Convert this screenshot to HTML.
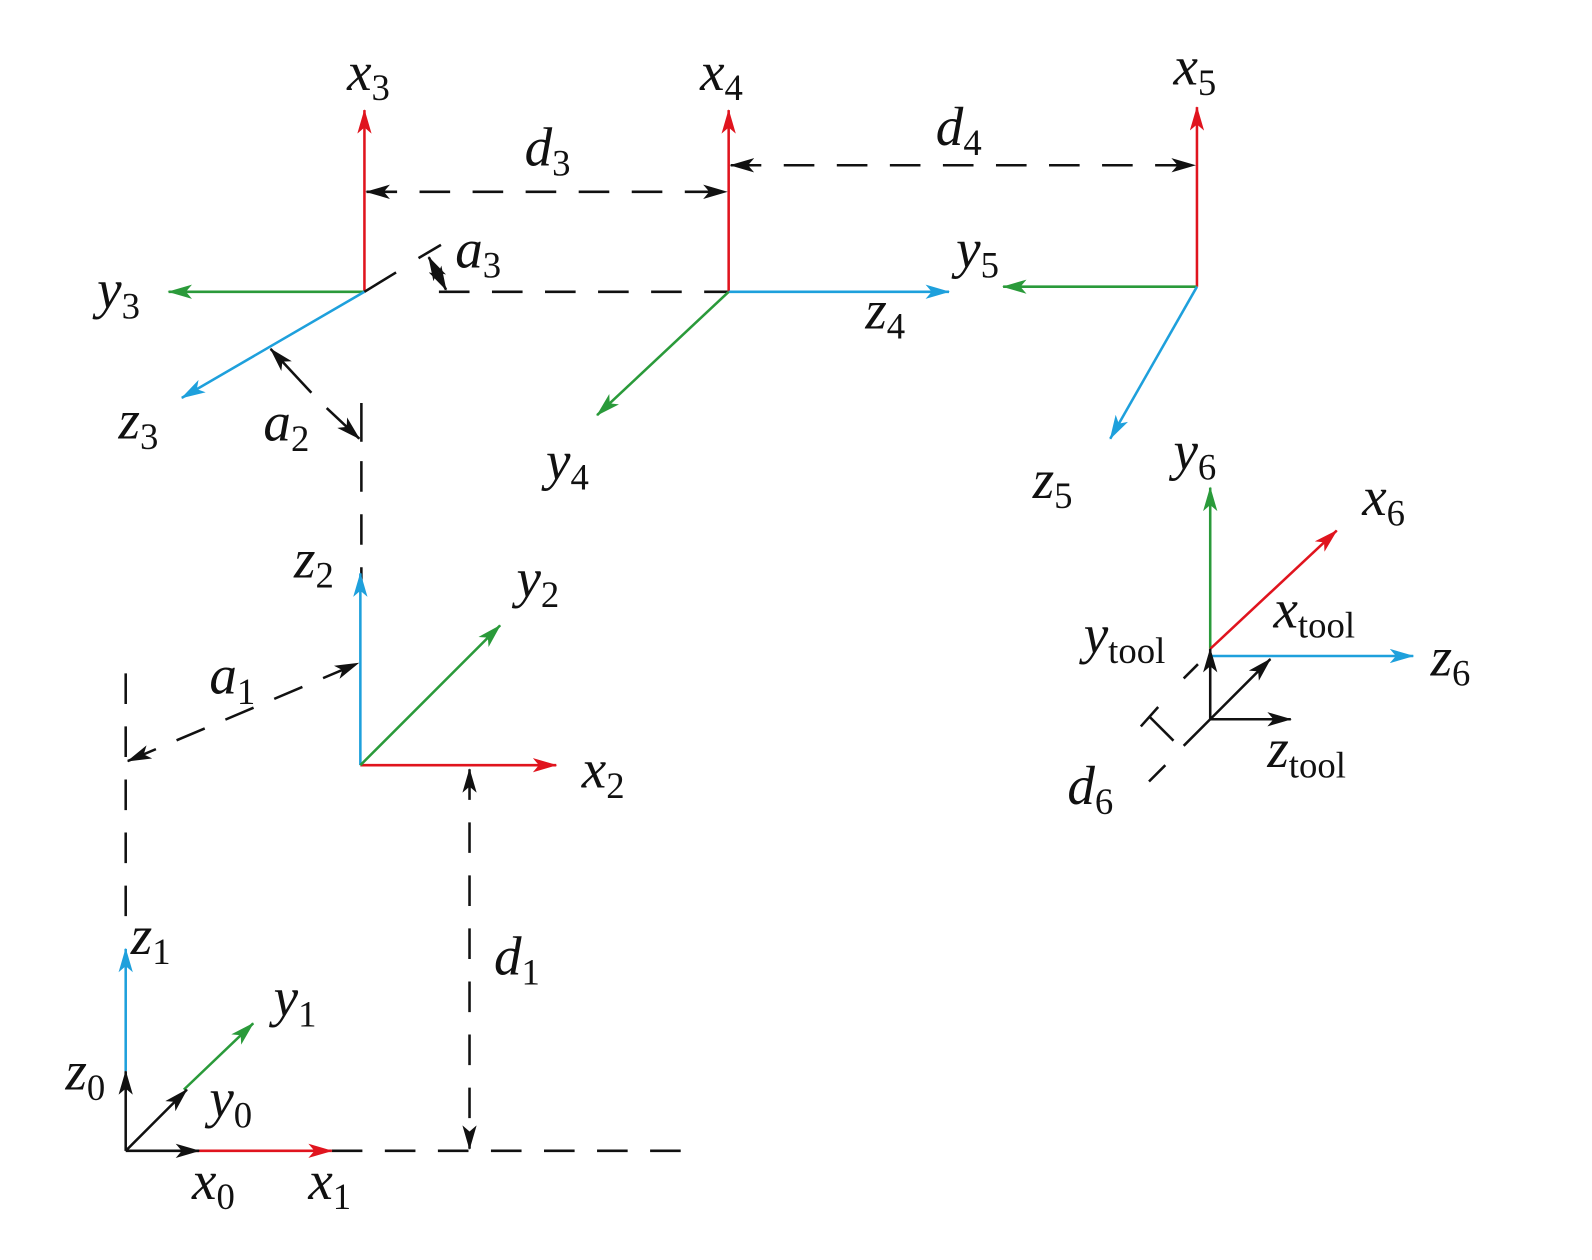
<!DOCTYPE html>
<html><head><meta charset="utf-8"><style>
html,body{margin:0;padding:0;background:#fff}
svg{display:block}
text{font-family:"Liberation Serif",serif;font-style:italic;font-size:54px;fill:#111}
tspan.s{font-style:normal;font-size:36px}
</style></head><body>
<svg width="1592" height="1260" viewBox="0 0 1560 1235" xmlns="http://www.w3.org/2000/svg">
<defs>
<marker id="r" markerWidth="24" markerHeight="14" refX="23" refY="7" orient="auto" markerUnits="userSpaceOnUse" viewBox="0 0 24 14"><path d="M0,0 L24,7 L0,14 L6,7z" fill="#e0141e"/></marker>
<marker id="g" markerWidth="24" markerHeight="14" refX="23" refY="7" orient="auto" markerUnits="userSpaceOnUse" viewBox="0 0 24 14"><path d="M0,0 L24,7 L0,14 L6,7z" fill="#2a9a3a"/></marker>
<marker id="b" markerWidth="24" markerHeight="14" refX="23" refY="7" orient="auto" markerUnits="userSpaceOnUse" viewBox="0 0 24 14"><path d="M0,0 L24,7 L0,14 L6,7z" fill="#1ea0dc"/></marker>
<marker id="k" markerWidth="24" markerHeight="14" refX="23" refY="7" orient="auto" markerUnits="userSpaceOnUse" viewBox="0 0 24 14"><path d="M0,0 L24,7 L0,14 L6,7z" fill="#111"/></marker>
<marker id="ks" markerWidth="24" markerHeight="14" refX="1" refY="7" orient="auto" markerUnits="userSpaceOnUse" viewBox="0 0 24 14"><path d="M24,0 L0,7 L24,14 L18,7z" fill="#111"/></marker>
</defs>
<g stroke-width="2.5" fill="none">
<line x1="357" y1="286" x2="357" y2="108" stroke="#e0141e" marker-end="url(#r)"/>
<line x1="357" y1="286" x2="165" y2="286" stroke="#2a9a3a" marker-end="url(#g)"/>
<line x1="357" y1="286" x2="178" y2="390" stroke="#1ea0dc" marker-end="url(#b)"/>
<line x1="357" y1="286" x2="388" y2="267" stroke="#111"/>
<line x1="410" y1="253" x2="432" y2="240" stroke="#111"/>
<line x1="420" y1="252" x2="437" y2="284" stroke="#111" marker-start="url(#ks)" marker-end="url(#k)"/>
<line x1="430" y1="286" x2="714" y2="286" stroke="#111" stroke-dasharray="30,22"/>
<line x1="359" y1="188" x2="712" y2="188" stroke="#111" stroke-dasharray="30,22" marker-start="url(#ks)" marker-end="url(#k)"/>
<line x1="714" y1="286" x2="714" y2="108" stroke="#e0141e" marker-end="url(#r)"/>
<line x1="714" y1="286" x2="930" y2="286" stroke="#1ea0dc" marker-end="url(#b)"/>
<line x1="714" y1="286" x2="585" y2="407" stroke="#2a9a3a" marker-end="url(#g)"/>
<line x1="716" y1="162" x2="1171" y2="162" stroke="#111" stroke-dasharray="30,22" marker-start="url(#ks)" marker-end="url(#k)"/>
<line x1="1173" y1="281" x2="1173" y2="105" stroke="#e0141e" marker-end="url(#r)"/>
<line x1="1173" y1="281" x2="983" y2="281" stroke="#2a9a3a" marker-end="url(#g)"/>
<line x1="1173" y1="281" x2="1088" y2="430" stroke="#1ea0dc" marker-end="url(#b)"/>
<line x1="305" y1="385" x2="265" y2="342" stroke="#111" marker-end="url(#k)"/>
<line x1="320" y1="400" x2="352" y2="430" stroke="#111" marker-end="url(#k)"/>
<line x1="354" y1="395" x2="354" y2="433" stroke="#111"/>
<line x1="354" y1="452" x2="354" y2="580" stroke="#111" stroke-dasharray="30,22"/>
<line x1="353" y1="750" x2="353" y2="562" stroke="#1ea0dc" marker-end="url(#b)"/>
<line x1="353" y1="750" x2="545" y2="750" stroke="#e0141e" marker-end="url(#r)"/>
<line x1="353" y1="750" x2="490" y2="613" stroke="#2a9a3a" marker-end="url(#g)"/>
<line x1="125" y1="746" x2="351" y2="650" stroke="#111" stroke-dasharray="30,22" marker-start="url(#ks)" marker-end="url(#k)"/>
<line x1="123" y1="660" x2="123" y2="910" stroke="#111" stroke-dasharray="30,22"/>
<line x1="460" y1="754" x2="460" y2="1126" stroke="#111" stroke-dasharray="30,22" marker-start="url(#ks)" marker-end="url(#k)"/>
<line x1="325" y1="1128" x2="670" y2="1128" stroke="#111" stroke-dasharray="30,22"/>
<line x1="123" y1="1050" x2="123" y2="930" stroke="#1ea0dc" marker-end="url(#b)"/>
<line x1="190" y1="1128" x2="325" y2="1128" stroke="#e0141e" marker-end="url(#r)"/>
<line x1="180" y1="1068" x2="248" y2="1003" stroke="#2a9a3a" marker-end="url(#g)"/>
<line x1="123" y1="1128" x2="123" y2="1050" stroke="#111" marker-end="url(#k)"/>
<line x1="123" y1="1128" x2="195" y2="1128" stroke="#111" marker-end="url(#k)"/>
<line x1="123" y1="1128" x2="183" y2="1068" stroke="#111" marker-end="url(#k)"/>
<line x1="1186" y1="636" x2="1186" y2="478" stroke="#2a9a3a" marker-end="url(#g)"/>
<line x1="1186" y1="636" x2="1310" y2="520" stroke="#e0141e" marker-end="url(#r)"/>
<line x1="1186" y1="643" x2="1385" y2="643" stroke="#1ea0dc" marker-end="url(#b)"/>
<line x1="1186" y1="705" x2="1186" y2="636" stroke="#111" marker-end="url(#k)"/>
<line x1="1186" y1="705" x2="1245" y2="646" stroke="#111" marker-end="url(#k)"/>
<line x1="1186" y1="705" x2="1265" y2="705" stroke="#111" marker-end="url(#k)"/>
<line x1="1186" y1="705" x2="1160" y2="731" stroke="#111"/>
<line x1="1160" y1="665" x2="1174" y2="651" stroke="#111"/>
<line x1="1118" y1="712" x2="1135" y2="693" stroke="#111"/>
<line x1="1127" y1="703" x2="1150" y2="726" stroke="#111"/>
<line x1="1126" y1="766" x2="1142" y2="750" stroke="#111"/>
</g>
<text x="340" y="88">x<tspan class="s" dy="10">3</tspan></text>
<text x="514" y="162">d<tspan class="s" dy="10">3</tspan></text>
<text x="686" y="88">x<tspan class="s" dy="10">4</tspan></text>
<text x="917" y="142">d<tspan class="s" dy="10">4</tspan></text>
<text x="1150" y="83">x<tspan class="s" dy="10">5</tspan></text>
<text x="446" y="262">a<tspan class="s" dy="10">3</tspan></text>
<text x="95" y="302">y<tspan class="s" dy="10">3</tspan></text>
<text x="848" y="322">z<tspan class="s" dy="10">4</tspan></text>
<text x="937" y="262">y<tspan class="s" dy="10">5</tspan></text>
<text x="116" y="430">z<tspan class="s" dy="10">3</tspan></text>
<text x="258" y="432">a<tspan class="s" dy="10">2</tspan></text>
<text x="535" y="470">y<tspan class="s" dy="10">4</tspan></text>
<text x="1012" y="488">z<tspan class="s" dy="10">5</tspan></text>
<text x="1150" y="460">y<tspan class="s" dy="10">6</tspan></text>
<text x="1335" y="505">x<tspan class="s" dy="10">6</tspan></text>
<text x="288" y="566">z<tspan class="s" dy="10">2</tspan></text>
<text x="506" y="585">y<tspan class="s" dy="10">2</tspan></text>
<text x="1062" y="640">y<tspan class="s" dy="10">tool</tspan></text>
<text x="1248" y="615">x<tspan class="s" dy="10">tool</tspan></text>
<text x="1402" y="662">z<tspan class="s" dy="10">6</tspan></text>
<text x="205" y="680">a<tspan class="s" dy="10">1</tspan></text>
<text x="570" y="772">x<tspan class="s" dy="10">2</tspan></text>
<text x="1046" y="788">d<tspan class="s" dy="10">6</tspan></text>
<text x="1242" y="752">z<tspan class="s" dy="10">tool</tspan></text>
<text x="484" y="955">d<tspan class="s" dy="10">1</tspan></text>
<text x="128" y="935">z<tspan class="s" dy="10">1</tspan></text>
<text x="268" y="996">y<tspan class="s" dy="10">1</tspan></text>
<text x="64" y="1068">z<tspan class="s" dy="10">0</tspan></text>
<text x="205" y="1095">y<tspan class="s" dy="10">0</tspan></text>
<text x="188" y="1175">x<tspan class="s" dy="10">0</tspan></text>
<text x="302" y="1175">x<tspan class="s" dy="10">1</tspan></text>
</svg>
</body></html>
